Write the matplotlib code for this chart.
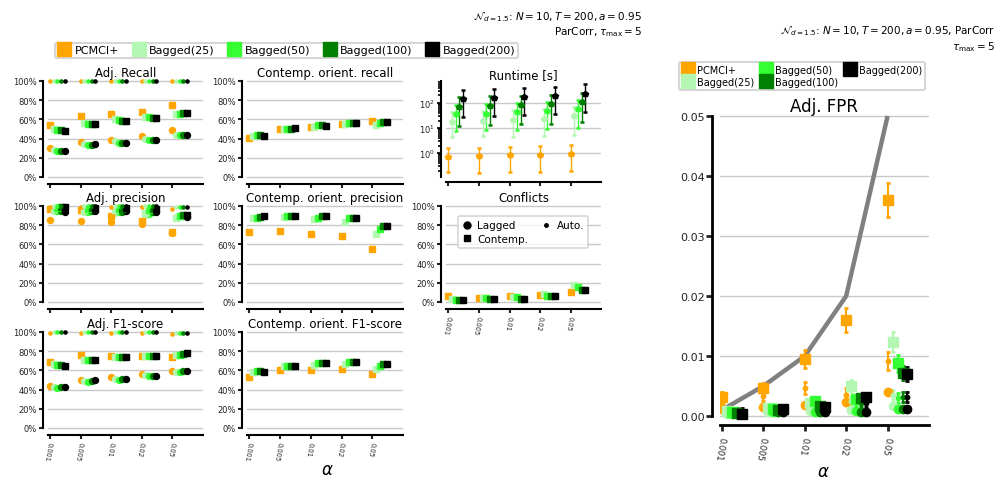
import numpy as np
import matplotlib.pyplot as plt
from matplotlib.lines import Line2D

# Figure size in pixels (dpi 100)
W, H = 997, 481

# Common categories
ALPHAS = ['0.001', '0.005', '0.01', '0.02', '0.05']
ALPHA_VALUES = [0.001, 0.005, 0.01, 0.02, 0.05]
METHODS = ['PCMCI+', 'Bagged(25)', 'Bagged(50)', 'Bagged(100)', 'Bagged(200)']
COLORS = ['orange', '#b3f7b3', '#33ff33', 'green', 'black']
OFFSETS = [0.0, 0.12, 0.24, 0.36, 0.48]

# Adj. Recall (rows = methods, cols = alphas)
recall_contemp = [[0.545, 0.635, 0.655, 0.68, 0.75],
                  [0.50, 0.56, 0.60, 0.63, 0.66],
                  [0.49, 0.555, 0.59, 0.62, 0.66],
                  [0.49, 0.55, 0.585, 0.615, 0.665],
                  [0.48, 0.55, 0.58, 0.615, 0.67]]
recall_lagged = [[0.30, 0.36, 0.39, 0.43, 0.485],
                 [0.28, 0.34, 0.37, 0.40, 0.44],
                 [0.27, 0.33, 0.355, 0.385, 0.435],
                 [0.275, 0.33, 0.355, 0.385, 0.435],
                 [0.275, 0.34, 0.355, 0.385, 0.44]]
recall_auto = [[1.0, 1.0, 1.0, 1.0, 1.0],
               [1.0, 1.0, 1.0, 1.0, 1.0],
               [1.0, 1.0, 1.0, 1.0, 1.0],
               [1.0, 1.0, 1.0, 1.0, 1.0],
               [1.0, 1.0, 1.0, 1.0, 1.0]]

# Adj. precision
prec_contemp = [[0.965, 0.955, 0.90, 0.84, 0.73],
                [0.97, 0.955, 0.955, 0.93, 0.87],
                [0.98, 0.97, 0.965, 0.96, 0.90],
                [0.99, 0.975, 0.97, 0.965, 0.91],
                [0.99, 0.975, 0.975, 0.965, 0.905]]
prec_lagged = [[0.85, 0.84, 0.83, 0.81, 0.72],
               [0.945, 0.935, 0.93, 0.91, 0.89],
               [0.945, 0.94, 0.935, 0.92, 0.90],
               [0.945, 0.945, 0.94, 0.935, 0.90],
               [0.94, 0.945, 0.945, 0.94, 0.89]]
prec_auto = [[0.99, 0.99, 0.99, 0.99, 0.965],
             [1.0, 1.0, 1.0, 1.0, 0.99],
             [1.0, 1.0, 1.0, 1.0, 0.99],
             [1.0, 1.0, 1.0, 1.0, 0.99],
             [1.0, 1.0, 1.0, 1.0, 0.99]]

# Adj. F1-score
f1_contemp = [[0.69, 0.76, 0.755, 0.755, 0.74],
              [0.665, 0.71, 0.74, 0.755, 0.76],
              [0.66, 0.71, 0.74, 0.755, 0.765],
              [0.655, 0.71, 0.735, 0.75, 0.77],
              [0.645, 0.705, 0.735, 0.75, 0.78]]
f1_lagged = [[0.44, 0.50, 0.535, 0.56, 0.59],
             [0.425, 0.485, 0.515, 0.555, 0.585],
             [0.42, 0.48, 0.505, 0.54, 0.585],
             [0.425, 0.485, 0.51, 0.545, 0.59],
             [0.425, 0.495, 0.515, 0.545, 0.595]]
f1_auto = [[0.99, 0.99, 0.99, 0.99, 0.98],
           [0.995, 0.995, 0.995, 0.995, 0.99],
           [0.995, 0.995, 0.995, 0.995, 0.99],
           [0.995, 0.995, 0.995, 0.995, 0.99],
           [0.995, 0.995, 0.995, 0.995, 0.99]]

# Contemp. orient. recall / precision / F1
orient_recall = [[0.41, 0.50, 0.52, 0.555, 0.58],
                 [0.43, 0.50, 0.52, 0.555, 0.545],
                 [0.435, 0.505, 0.54, 0.56, 0.565],
                 [0.435, 0.505, 0.54, 0.56, 0.57],
                 [0.43, 0.51, 0.535, 0.56, 0.575]]
orient_prec = [[0.73, 0.74, 0.71, 0.685, 0.555],
               [0.87, 0.885, 0.865, 0.83, 0.71],
               [0.88, 0.895, 0.875, 0.87, 0.765],
               [0.89, 0.90, 0.90, 0.88, 0.795],
               [0.895, 0.90, 0.895, 0.88, 0.795]]
orient_f1 = [[0.53, 0.60, 0.60, 0.615, 0.565],
             [0.585, 0.645, 0.66, 0.67, 0.615],
             [0.59, 0.65, 0.675, 0.685, 0.645],
             [0.59, 0.65, 0.68, 0.69, 0.665],
             [0.585, 0.65, 0.675, 0.69, 0.67]]

# Conflicts
conflicts = [[0.06, 0.04, 0.06, 0.07, 0.105],
             [0.03, 0.045, 0.055, 0.08, 0.18],
             [0.025, 0.04, 0.05, 0.06, 0.16],
             [0.025, 0.035, 0.035, 0.06, 0.13],
             [0.025, 0.035, 0.035, 0.06, 0.13]]

# Runtime [s] with lower / upper whiskers
runtime = [[0.72, 0.74, 0.80, 0.86, 0.93],
           [18, 19, 21, 23, 29],
           [36, 38, 42, 47, 57],
           [69, 78, 85, 95, 115],
           [145, 160, 170, 195, 229]]
runtime_lo = [[0.17, 0.16, 0.17, 0.18, 0.19],
              [4.5, 4.8, 4.2, 5.0, 5.5],
              [7.6, 8.0, 8.5, 9.0, 9.6],
              [12, 13, 14, 15, 18],
              [27, 30, 32, 35, 43]]
runtime_hi = [[1.6, 1.65, 1.75, 1.9, 2.1],
              [45, 48, 52, 58, 70],
              [80, 90, 100, 110, 130],
              [174, 185, 195, 215, 250],
              [340, 370, 400, 450, 575]]

# Adj. FPR (right figure)
fpr_contemp = [[0.0032, 0.0047, 0.0095, 0.016, 0.036],
               [0.0008, 0.0013, 0.0022, 0.005, 0.0123],
               [0.0007, 0.0012, 0.0025, 0.0028, 0.0088],
               [0.0005, 0.0010, 0.0017, 0.0030, 0.0072],
               [0.0004, 0.0011, 0.0015, 0.0032, 0.0070]]
fpr_contemp_err = [[0.0008, 0.0008, 0.0015, 0.002, 0.0028],
                   [0.0004, 0.0005, 0.0006, 0.0010, 0.0017],
                   [0.0004, 0.0005, 0.0006, 0.0007, 0.0014],
                   [0.0004, 0.0004, 0.0005, 0.0007, 0.0012],
                   [0.0004, 0.0004, 0.0005, 0.0007, 0.0011]]
fpr_lagged = [[0.0012, 0.0015, 0.0018, 0.0023, 0.0040],
              [0.0003, 0.0007, 0.0008, 0.0010, 0.0017],
              [0.0003, 0.0006, 0.0006, 0.0008, 0.0012],
              [0.0003, 0.0006, 0.0006, 0.0007, 0.0012],
              [0.0003, 0.0006, 0.0006, 0.0007, 0.0012]]
fpr_lagged_err = [[0.0003, 0.0003, 0.0003, 0.0004, 0.0004],
                  [0.0002, 0.0002, 0.0002, 0.0002, 0.0003],
                  [0.0002, 0.0002, 0.0002, 0.0002, 0.0003],
                  [0.0002, 0.0002, 0.0002, 0.0002, 0.0003],
                  [0.0002, 0.0002, 0.0002, 0.0002, 0.0003]]
fpr_auto = [[0.0022, 0.0033, 0.0046, 0.0035, 0.0091],
            [0.0008, 0.0015, 0.0018, 0.0025, 0.0035],
            [0.0008, 0.0015, 0.0018, 0.0022, 0.0030],
            [0.0008, 0.0014, 0.0017, 0.0022, 0.0032],
            [0.0008, 0.0014, 0.0016, 0.0022, 0.0032]]
fpr_auto_err = [[0.0007, 0.0008, 0.0010, 0.0012, 0.0015],
                [0.0005, 0.0005, 0.0006, 0.0007, 0.0008],
                [0.0005, 0.0005, 0.0006, 0.0007, 0.0008],
                [0.0005, 0.0005, 0.0006, 0.0007, 0.0008],
                [0.0005, 0.0005, 0.0006, 0.0007, 0.0008]]

GRID_C = '#c8c8c8'


def px_axes(fig, left, right, top, bottom):
    # axes from pixel coordinates (y measured from the top)
    return fig.add_axes([left / W, 1 - bottom / H, (right - left) / W, (bottom - top) / H])


def style_axes(ax, lw=1.5, off=3.5, ticklen=3, labelsize=6):
    for s in ['top', 'right']:
        ax.spines[s].set_visible(False)
    for s in ['left', 'bottom']:
        ax.spines[s].set_position(('outward', off))
        ax.spines[s].set_linewidth(lw)
    ax.tick_params(axis='both', which='major', length=ticklen, width=lw,
                   labelsize=labelsize, pad=1.5, colors='#222222')
    ax.yaxis.grid(True, color=GRID_C, lw=1)
    ax.set_axisbelow(True)


def pct_panel(fig, t0, sp, y0, y1, title, xlabels=False):
    left, right = t0 - 0.07 * sp, t0 + 5 * sp
    h = y0 - y1
    ax = px_axes(fig, left, right, y1 - 0.02 * h, y0 + 0.02 * h)
    style_axes(ax)
    ax.set_xlim(-0.07, 5)
    ax.set_ylim(-0.02, 1.02)
    ax.spines['left'].set_bounds(0, 1)
    ax.set_yticks(np.linspace(0, 1, 6))
    ax.set_yticklabels(['0%', '20%', '40%', '60%', '80%', '100%'])
    ax.set_xticks(range(5))
    set_xlabels(ax, xlabels, 4.8)
    ax.set_title(title, fontsize=8.5, pad=2)
    return ax


def set_xlabels(ax, show, size):
    if show:
        ax.set_xticklabels(ALPHAS, rotation=-100, rotation_mode='anchor',
                           ha='left', va='center', fontsize=size)
    else:
        ax.set_xticklabels([])


def plot_points(ax, values, marker, ms):
    for m in range(len(METHODS)):
        xs = np.arange(5) + OFFSETS[m]
        ax.plot(xs, values[m], ls='none', marker=marker, ms=ms,
                color=COLORS[m], mec=COLORS[m], clip_on=False, zorder=3)


fig = plt.figure(figsize=(W / 100, H / 100), dpi=100)

COLS = [(50, 30.6), (249.3, 30.75), (448.3, 30.6)]
ROWS = [(178, 82), (303, 207), (429, 333)]

# Row 1
ax = pct_panel(fig, *COLS[0], *ROWS[0], 'Adj. Recall')
plot_points(ax, recall_lagged, 'o', 4.3)
plot_points(ax, recall_contemp, 's', 4.6)
plot_points(ax, recall_auto, 'o', 2.3)

ax = pct_panel(fig, *COLS[1], *ROWS[0], 'Contemp. orient. recall')
plot_points(ax, orient_recall, 's', 4.6)

# Runtime (log scale)
t0, sp = COLS[2]
ax = px_axes(fig, t0 - 0.07 * sp, t0 + 5 * sp, 82, 178)
style_axes(ax)
ax.set_yscale('log')
ax.set_xlim(-0.07, 5)
ax.set_ylim(0.11, 760)
ax.tick_params(axis='y', which='minor', length=2, width=1.2)
ax.set_xticks(range(5))
ax.set_xticklabels([])
ax.set_title('Runtime [s]', fontsize=8.5, pad=2)
for m in range(len(METHODS)):
    xs = np.arange(5) + OFFSETS[m]
    vals = np.array(runtime[m])
    err = [vals - np.array(runtime_lo[m]), np.array(runtime_hi[m]) - vals]
    ax.errorbar(xs, vals, yerr=err, ls='none', marker='p', ms=4.2,
                color=COLORS[m], elinewidth=1.0, capsize=1.2, capthick=1.8,
                clip_on=False, zorder=3)

# Row 2
ax = pct_panel(fig, *COLS[0], *ROWS[1], 'Adj. precision')
plot_points(ax, prec_lagged, 'o', 4.3)
plot_points(ax, prec_contemp, 's', 4.6)
plot_points(ax, prec_auto, 'o', 2.3)

ax = pct_panel(fig, *COLS[1], *ROWS[1], 'Contemp. orient. precision')
plot_points(ax, orient_prec, 's', 4.6)

ax = pct_panel(fig, *COLS[2], *ROWS[1], 'Conflicts', xlabels=True)
plot_points(ax, conflicts, 's', 4.6)
kind_handles = [Line2D([], [], ls='none', marker='o', color='black', ms=5, label='Lagged'),
                Line2D([], [], ls='none', marker='s', color='black', ms=5, label='Contemp.'),
                Line2D([], [], ls='none', marker='o', color='black', ms=2.5, label='Auto.')]
leg = ax.legend(handles=kind_handles, ncol=2, fontsize=7.5, loc='upper left',
                bbox_to_anchor=(0.04, 0.93), handlelength=1.0, handletextpad=0.5,
                columnspacing=1.2, labelspacing=0.3, borderpad=0.4)
leg.get_frame().set_linewidth(1.2)

# Row 3
ax = pct_panel(fig, *COLS[0], *ROWS[2], 'Adj. F1-score', xlabels=True)
plot_points(ax, f1_lagged, 'o', 4.3)
plot_points(ax, f1_contemp, 's', 4.6)
plot_points(ax, f1_auto, 'o', 2.3)

ax = pct_panel(fig, *COLS[1], *ROWS[2], 'Contemp. orient. F1-score', xlabels=True)
plot_points(ax, orient_f1, 's', 4.6)

fig.text(327 / W, 1 - 470 / H, r'$\alpha$', fontsize=12, ha='center', va='center')

# Method legend and caption, left figure
method_handles = [Line2D([], [], ls='none', marker='s', ms=10.5, color=c, label=l)
                  for c, l in zip(COLORS, METHODS)]
leg = fig.legend(handles=method_handles, ncol=5, fontsize=8, loc='upper left',
                 bbox_to_anchor=(49 / W, 1 - 38 / H), handlelength=1.2,
                 handletextpad=0.35, columnspacing=1.15, borderpad=0.25)
leg.get_frame().set_linewidth(1.5)

fig.text(642 / W, 1 - 17 / H, r'$\mathcal{N}_{d=1.5}$: $N=10, T=200, a=0.95$',
         fontsize=7.5, ha='right', va='center')
fig.text(642 / W, 1 - 32 / H, r'ParCorr, $\tau_{\max}=5$',
         fontsize=7.5, ha='right', va='center')

# Right figure: Adj. FPR
t0, sp = 722, 41.4
ax = px_axes(fig, t0 - 0.05 * sp, t0 + 5 * sp, 117 - 0.0002 * 6000, 417 + 0.001 * 6000)
style_axes(ax, lw=2, off=5.5, ticklen=4, labelsize=8)
ax.set_xlim(-0.05, 5)
ax.set_ylim(-0.001, 0.0502)
ax.spines['left'].set_bounds(0, 0.05)
ax.spines['bottom'].set_position(('outward', 2.5))
ax.set_yticks([0, 0.01, 0.02, 0.03, 0.04, 0.05])
ax.set_yticklabels(['0.00', '0.01', '0.02', '0.03', '0.04', '0.05'])
ax.set_xticks(range(5))
set_xlabels(ax, True, 6)
ax.tick_params(axis='x', pad=4)
ax.set_title('Adj. FPR', fontsize=12, pad=3)
ax.plot(range(5), ALPHA_VALUES, color='gray', lw=3.2, zorder=2, solid_capstyle='butt')
for m in range(len(METHODS)):
    xs = np.arange(5) + OFFSETS[m]
    ax.errorbar(xs, fpr_lagged[m], yerr=fpr_lagged_err[m], ls='none', marker='o', ms=6,
                color=COLORS[m], elinewidth=1.5, capsize=1.2, capthick=2, zorder=3)
    ax.errorbar(xs, fpr_contemp[m], yerr=fpr_contemp_err[m], ls='none', marker='s', ms=6.7,
                color=COLORS[m], elinewidth=1.5, capsize=1.2, capthick=2, zorder=3)
    ax.errorbar(xs, fpr_auto[m], yerr=fpr_auto_err[m], ls='none', marker='o', ms=3.2,
                color=COLORS[m], elinewidth=1.5, capsize=1.2, capthick=2, zorder=3)

fig.text(823 / W, 1 - 472 / H, r'$\alpha$', fontsize=12, ha='center', va='center')

leg = fig.legend(handles=[Line2D([], [], ls='none', marker='s', ms=9.5, color=c, label=l)
                          for c, l in zip(COLORS, METHODS)],
                 ncol=3, fontsize=7, loc='upper left', bbox_to_anchor=(674 / W, 1 - 58 / H),
                 handlelength=1.2, handletextpad=0.35, columnspacing=0.6,
                 labelspacing=0.2, borderpad=0.3)
leg.get_frame().set_linewidth(1.5)

fig.text(995 / W, 1 - 31 / H, r'$\mathcal{N}_{d=1.5}$: $N=10, T=200, a=0.95$, ParCorr',
         fontsize=7.5, ha='right', va='center')
fig.text(995 / W, 1 - 47 / H, r'$\tau_{\max}=5$', fontsize=7.5, ha='right', va='center')

fig.savefig('out.png', dpi=100)
